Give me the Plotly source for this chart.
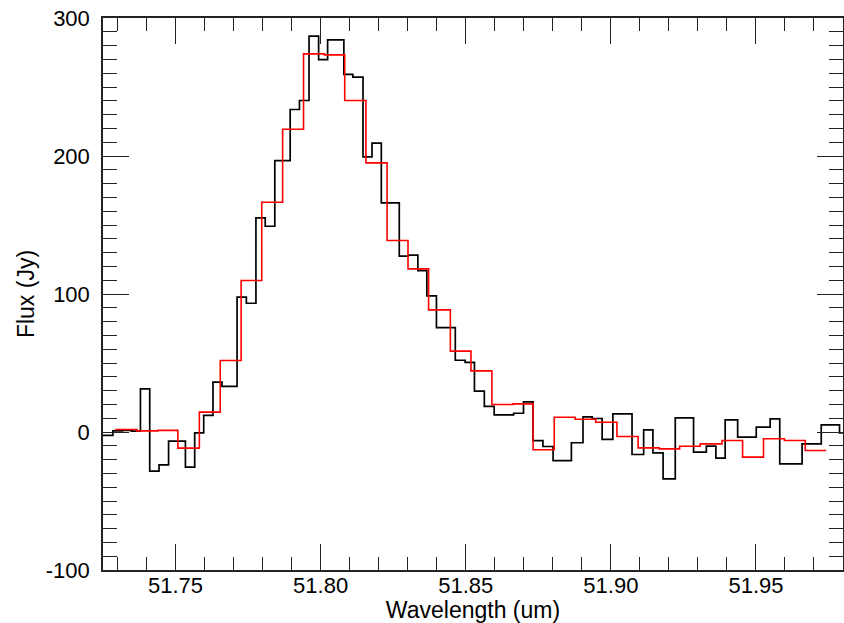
import plotly.graph_objects as go

# Observed spectrum (black): step left edges (um) and flux (Jy)
obs_edges = [51.7245, 51.7284, 51.7317, 51.7348, 51.7379, 51.7411, 51.7443, 51.7476,
             51.7534, 51.7566, 51.7597, 51.7629, 51.7660, 51.7712, 51.7744, 51.7777,
             51.7809, 51.7842, 51.7895, 51.7927, 51.7960, 51.7993, 51.8024, 51.8080,
             51.8111, 51.8146, 51.8177, 51.8209, 51.8271, 51.8302, 51.8335, 51.8366,
             51.8399, 51.8464, 51.8498, 51.8530, 51.8564, 51.8598, 51.8665, 51.8699,
             51.8732, 51.8766, 51.8801, 51.8864, 51.8904, 51.8936, 51.8970, 51.9007,
             51.9073, 51.9113, 51.9145, 51.9180, 51.9222, 51.9285, 51.9329, 51.9362,
             51.9394, 51.9437, 51.9501, 51.9549, 51.9582, 51.9659, 51.9725, 51.9788,
             51.9830]
obs_flux = [-2.5, 0.8, 1.2, 0.6, 31.3, -28.4, -23.8, -6.6,
            -25.5, -0.6, 12.0, 36.1, 33.0, 97.7, 93.3, 155.2,
            149.1, 196.7, 233.7, 240.2, 286.8, 269.9, 284.2, 259.1,
            257.1, 199.4, 209.3, 166.0, 127.4, 128.2, 117.0, 98.7,
            75.7, 52.0, 50.5, 29.6, 18.5, 12.4, 13.6, 21.9,
            -6.2, -10.5, -20.7, -7.8, 11.0, 9.8, -5.4, 13.2,
            -16.3, 1.6, -15.1, -33.9, 10.3, -14.6, -10.3, -19.0,
            8.8, -3.7, 3.5, 9.5, -23.1, -8.6, 5.2, -0.6]

# Model / rebinned spectrum (red)
mod_edges = [51.7292, 51.7367, 51.7439, 51.7508, 51.7582, 51.7654, 51.7726, 51.7797,
             51.7869, 51.7941, 51.8013, 51.8083, 51.8156, 51.8229, 51.8301, 51.8372,
             51.8447, 51.8518, 51.8590, 51.8663, 51.8732, 51.8805, 51.8877, 51.8948,
             51.9021, 51.9094, 51.9167, 51.9237, 51.9308, 51.9383, 51.9454, 51.9526,
             51.9598, 51.9670, 51.9742]
mod_flux = [1.8, 0.8, 1.2, -11.7, 14.4, 51.8, 109.8, 166.5,
            219.4, 274.0, 273.3, 240.2, 195.0, 138.8, 118.2, 88.5,
            58.6, 44.3, 19.9, 20.4, -12.9, 10.7, 9.2, 7.1,
            -3.3, -11.5, -12.2, -10.3, -8.6, -6.2, -18.2, -4.9,
            -6.2, -13.4]

x_range = [51.725, 51.98]
y_range = [-100, 300]
x_ticks = [51.75, 51.80, 51.85, 51.90, 51.95]
x_ticklabels = ["51.75", "51.80", "51.85", "51.90", "51.95"]
y_ticks = [-100, 0, 100, 200, 300]
y_ticklabels = ["-100", "0", "100", "200", "300"]

fig = go.Figure()
fig.add_trace(go.Scatter(x=obs_edges, y=obs_flux + [obs_flux[-1]], mode="lines",
                         line=dict(color="black", width=1.7, shape="hv"),
                         showlegend=False))
fig.add_trace(go.Scatter(x=mod_edges, y=mod_flux + [mod_flux[-1]], mode="lines",
                         line=dict(color="#ff0000", width=1.6, shape="hv"),
                         showlegend=False))

font = "Liberation Sans, Arial, Helvetica, sans-serif"
axis_common = dict(showline=True, linecolor="#222", linewidth=1.5, mirror="ticks",
                   ticks="inside", ticklen=26, tickwidth=1.3, tickcolor="#222",
                   showgrid=False, zeroline=False, ticklabeloverflow="allow",
                   tickfont=dict(family=font, size=22, color="black"))

fig.update_xaxes(range=x_range, tickvals=x_ticks, ticktext=x_ticklabels,
                 minor=dict(dtick=0.01, tick0=51.70, ticklen=13, ticks="inside",
                            tickwidth=1.3, tickcolor="#222", showgrid=False),
                 title=dict(text="Wavelength (um)", font=dict(family=font, size=23, color="black"),
                            standoff=3),
                 ticklabelstandoff=-5,
                 **axis_common)
fig.update_yaxes(range=y_range, tickvals=y_ticks, ticktext=y_ticklabels,
                 minor=dict(dtick=10, tick0=0, ticklen=14, ticks="inside",
                            tickwidth=1.3, tickcolor="#222", showgrid=False),
                 title=dict(text="Flux (Jy)", font=dict(family=font, size=23, color="black"),
                            standoff=5),
                 ticklabelstandoff=7,
                 **axis_common)

fig.update_layout(width=844, height=623, margin=dict(l=103, r=1, t=18, b=53, autoexpand=False),
                  paper_bgcolor="white", plot_bgcolor="white", showlegend=False)

# remove the default 8px page margin so the figure fills the window exactly
fig.write_html("out.html", config={"displayModeBar": False},
               post_script="document.body.style.margin='0';")
